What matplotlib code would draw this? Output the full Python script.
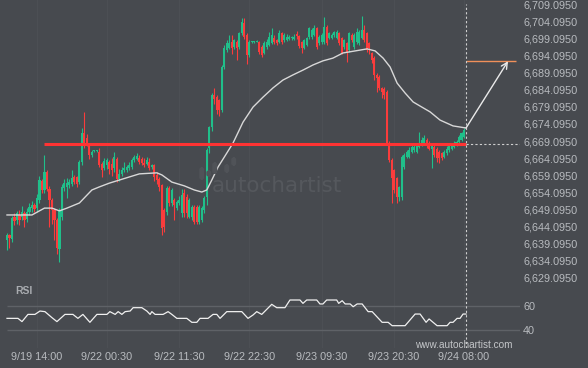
import matplotlib
matplotlib.use('Agg')
import numpy as np
from matplotlib import pyplot as plt
from matplotlib.patches import FancyBboxPatch

plt.rcParams['font.family'] = ['Liberation Sans', 'DejaVu Sans']

# candles (30 min)
opens = [6640.2, 6641.6, 6640.5, 6647.0, 6646.0, 6647.5, 6647.0, 6648.0, 6646.3, 6648.3,
         6649.5, 6650.3, 6649.5, 6652.0, 6657.3, 6654.8, 6660.0, 6655.0, 6651.9, 6648.9,
         6646.0, 6637.5, 6647.0, 6655.5, 6655.8, 6656.3, 6656.5, 6658.6, 6658.6, 6657.2,
         6663.0, 6671.4, 6670.0, 6668.0, 6665.0, 6666.1, 6666.1, 6665.9, 6662.5, 6661.3,
         6662.0, 6663.0, 6662.5, 6661.2, 6663.8, 6658.0, 6659.6, 6660.6, 6660.6, 6661.2,
         6661.5, 6663.5, 6663.8, 6664.2, 6663.8, 6662.8, 6662.5, 6663.0, 6661.5, 6662.0,
         6659.2, 6658.0, 6656.2, 6648.9, 6648.3, 6655.3, 6651.0, 6652.0, 6649.6, 6651.0,
         6648.0, 6654.0, 6652.7, 6647.0, 6647.0, 6649.8, 6649.8, 6645.5, 6646.0, 6649.0,
         6652.8, 6667.0, 6673.2, 6682.5, 6682.0, 6681.0, 6678.2, 6690.7, 6695.7, 6696.3,
         6698.0, 6696.5, 6698.0, 6696.5, 6700.6, 6703.6, 6700.1, 6694.2, 6698.0, 6698.0,
         6698.1, 6698.0, 6696.5, 6694.8, 6696.5, 6697.1, 6697.7, 6699.2, 6698.6, 6698.0,
         6700.6, 6698.6, 6698.6, 6698.9, 6699.1, 6698.9, 6700.1, 6699.8, 6698.0, 6696.3,
         6697.1, 6699.5, 6699.5, 6700.1, 6702.1, 6697.7, 6698.0, 6698.0, 6702.4, 6699.2,
         6699.2, 6700.1, 6699.2, 6700.6, 6699.2, 6696.5, 6697.7, 6695.7, 6700.0, 6696.6,
         6698.0, 6697.6, 6699.2, 6701.5, 6700.5, 6697.6, 6694.7, 6693.3, 6688.4, 6687.9,
         6684.5, 6684.3, 6683.5, 6668.4, 6663.5, 6660.6, 6658.2, 6652.8, 6652.8, 6661.6,
         6664.5, 6664.5, 6666.0, 6666.5, 6666.0, 6667.4, 6667.9, 6668.4, 6669.4, 6668.4,
         6666.9, 6667.4, 6666.9, 6666.0, 6665.5, 6664.5, 6665.5, 6666.5, 6666.7, 6667.4,
         6667.9, 6668.9, 6669.4, 6670.4]
highs = [6642.2, 6642.0, 6647.2, 6648.0, 6648.7, 6649.0, 6650.0, 6648.8, 6649.5, 6651.0,
         6651.5, 6651.0, 6653.5, 6659.0, 6658.0, 6665.0, 6660.5, 6656.0, 6652.5, 6649.5,
         6646.5, 6649.5, 6656.5, 6658.0, 6658.3, 6658.0, 6660.6, 6659.3, 6659.0, 6663.5,
         6672.9, 6677.6, 6671.0, 6668.5, 6666.5, 6666.4, 6666.4, 6667.0, 6663.0, 6664.0,
         6664.0, 6663.5, 6664.0, 6665.9, 6664.5, 6661.0, 6661.5, 6663.0, 6662.0, 6663.0,
         6664.0, 6665.0, 6665.5, 6665.0, 6664.5, 6664.0, 6664.5, 6664.0, 6662.5, 6662.5,
         6660.0, 6658.5, 6656.5, 6649.5, 6656.0, 6656.0, 6655.5, 6652.5, 6652.0, 6653.0,
         6655.0, 6655.0, 6653.5, 6652.5, 6650.3, 6650.5, 6650.5, 6650.5, 6650.0, 6653.0,
         6667.0, 6673.5, 6683.0, 6684.6, 6682.5, 6681.5, 6691.3, 6697.0, 6698.5, 6700.0,
         6700.0, 6699.0, 6698.6, 6701.0, 6705.0, 6705.0, 6700.5, 6698.5, 6698.4, 6698.4,
         6698.5, 6698.3, 6697.0, 6698.2, 6698.8, 6701.0, 6702.0, 6700.0, 6699.0, 6701.5,
         6701.0, 6700.6, 6700.3, 6700.0, 6699.9, 6700.3, 6701.2, 6700.0, 6698.3, 6699.0,
         6699.5, 6702.4, 6702.0, 6703.0, 6702.5, 6700.0, 6700.5, 6705.3, 6703.0, 6701.0,
         6700.6, 6701.2, 6701.5, 6701.0, 6699.5, 6699.0, 6698.0, 6701.0, 6700.5, 6700.5,
         6702.0, 6701.5, 6705.6, 6703.0, 6701.0, 6698.0, 6695.0, 6693.8, 6689.0, 6688.5,
         6685.0, 6685.0, 6684.0, 6669.0, 6664.0, 6661.0, 6658.5, 6656.0, 6665.0, 6665.5,
         6666.5, 6667.4, 6668.0, 6668.0, 6668.5, 6671.8, 6670.4, 6670.8, 6669.9, 6669.0,
         6668.0, 6667.8, 6667.3, 6666.5, 6666.0, 6666.5, 6667.5, 6668.0, 6668.3, 6669.0,
         6669.5, 6670.8, 6671.8, 6672.8]
lows = [6637.3, 6637.8, 6639.5, 6644.5, 6645.0, 6644.5, 6646.0, 6644.0, 6645.5, 6647.5,
        6648.5, 6648.5, 6648.5, 6651.0, 6654.0, 6654.0, 6654.5, 6644.0, 6645.0, 6640.2,
        6636.0, 6633.8, 6646.0, 6654.5, 6652.5, 6655.5, 6656.0, 6656.5, 6655.6, 6656.5,
        6662.0, 6667.0, 6667.5, 6663.8, 6664.5, 6665.9, 6665.9, 6661.5, 6658.5, 6660.5,
        6661.0, 6659.5, 6659.0, 6660.0, 6657.0, 6657.5, 6659.0, 6660.0, 6660.0, 6660.5,
        6661.0, 6663.0, 6663.5, 6662.5, 6662.0, 6661.5, 6662.0, 6660.5, 6661.0, 6657.5,
        6656.5, 6654.5, 6641.6, 6642.5, 6647.5, 6650.0, 6650.0, 6646.0, 6649.0, 6650.5,
        6647.0, 6647.0, 6646.5, 6646.5, 6646.0, 6645.0, 6645.0, 6645.0, 6645.5, 6648.0,
        6650.5, 6665.5, 6672.0, 6680.0, 6677.0, 6676.5, 6677.5, 6690.0, 6695.0, 6696.0,
        6694.5, 6696.0, 6692.8, 6696.0, 6700.0, 6699.0, 6691.6, 6693.5, 6697.8, 6697.8,
        6697.9, 6694.5, 6693.5, 6694.5, 6696.0, 6696.8, 6697.5, 6697.5, 6697.0, 6697.7,
        6697.5, 6698.0, 6698.3, 6698.6, 6698.7, 6698.5, 6699.0, 6696.3, 6694.8, 6696.0,
        6696.8, 6699.0, 6699.0, 6699.8, 6696.0, 6697.2, 6697.5, 6697.5, 6697.0, 6699.0,
        6698.8, 6699.5, 6699.0, 6697.0, 6694.5, 6696.0, 6692.2, 6695.0, 6698.0, 6696.0,
        6697.5, 6697.0, 6698.8, 6698.0, 6695.0, 6694.5, 6692.0, 6687.0, 6683.5, 6684.0,
        6681.6, 6681.5, 6668.0, 6663.0, 6650.9, 6654.0, 6650.9, 6651.5, 6652.0, 6661.0,
        6664.0, 6664.0, 6665.5, 6666.0, 6665.5, 6667.0, 6667.5, 6668.0, 6667.2, 6666.5,
        6661.1, 6664.5, 6663.0, 6662.6, 6663.5, 6664.0, 6665.0, 6666.0, 6666.5, 6667.0,
        6667.6, 6668.5, 6669.0, 6670.0]
closes = [6641.6, 6640.7, 6646.6, 6645.7, 6648.0, 6646.0, 6648.5, 6646.0, 6648.5, 6649.8,
          6650.4, 6649.3, 6652.5, 6657.7, 6654.8, 6660.0, 6655.0, 6651.9, 6648.9, 6646.0,
          6637.8, 6648.9, 6655.6, 6656.8, 6656.8, 6657.2, 6658.2, 6657.2, 6656.6, 6663.0,
          6671.4, 6668.0, 6668.5, 6665.0, 6665.9, 6666.2, 6666.2, 6662.1, 6660.5, 6663.2,
          6663.5, 6660.8, 6660.5, 6664.4, 6658.0, 6659.6, 6660.6, 6661.2, 6661.5, 6662.1,
          6663.5, 6664.4, 6664.7, 6663.0, 6662.7, 6662.1, 6663.5, 6661.2, 6662.1, 6658.6,
          6657.7, 6655.6, 6643.7, 6644.0, 6655.3, 6651.0, 6654.8, 6650.4, 6651.3, 6651.9,
          6653.3, 6648.0, 6648.0, 6651.9, 6649.8, 6645.5, 6645.5, 6649.8, 6649.5, 6652.5,
          6666.5, 6673.2, 6682.5, 6681.4, 6678.2, 6678.2, 6690.7, 6696.3, 6697.7, 6697.7,
          6696.3, 6698.6, 6696.3, 6700.6, 6703.9, 6699.5, 6694.2, 6698.0, 6698.2, 6698.2,
          6698.3, 6695.1, 6694.2, 6697.7, 6698.0, 6699.5, 6700.1, 6698.0, 6697.7, 6700.6,
          6698.0, 6700.1, 6699.5, 6699.4, 6699.6, 6699.5, 6699.9, 6696.8, 6696.3, 6698.6,
          6699.2, 6702.1, 6701.5, 6702.1, 6696.5, 6699.5, 6700.1, 6702.4, 6697.7, 6700.6,
          6700.1, 6700.8, 6700.9, 6697.7, 6694.8, 6698.6, 6694.8, 6700.5, 6698.6, 6700.0,
          6700.9, 6700.9, 6701.5, 6698.6, 6695.7, 6696.3, 6692.8, 6688.4, 6687.4, 6684.5,
          6683.5, 6682.5, 6668.4, 6663.5, 6658.2, 6654.8, 6652.8, 6655.7, 6664.5, 6665.0,
          6666.0, 6666.5, 6667.4, 6667.4, 6667.9, 6667.9, 6669.4, 6669.9, 6667.6, 6666.9,
          6667.6, 6665.0, 6664.0, 6664.0, 6664.0, 6666.0, 6666.9, 6667.6, 6667.9, 6668.4,
          6668.9, 6670.4, 6671.3, 6672.3]

# moving average, sampled along the white line (candle index, price)
ma_idx = [0, 10, 15, 18, 21, 24, 29, 34, 37, 41, 45, 53, 60, 62, 66, 71, 75, 78, 80, 82,
          84.5, 87, 90.5, 94.5, 98.5, 102.5, 106.5, 110.5, 114.5, 118.5, 122.5, 126.5,
          130.5, 134.5, 139.4, 144.2, 147.4, 150.6, 153.4, 156.2, 159.4, 162.6, 165.4,
          169.4, 173.4, 178.6, 183.8]
ma_vals = [6647.5, 6647.5, 6649.5, 6649.5, 6648.7, 6649.5, 6651.0, 6654.8, 6655.7, 6656.8,
           6657.7, 6659.5, 6659.8, 6659.2, 6657.1, 6656.0, 6654.8, 6654.2, 6654.8, 6657.7,
           6661.5, 6664.4, 6668.5, 6674.6, 6679.0, 6681.9, 6684.6, 6686.9, 6688.4, 6689.8,
           6691.3, 6692.5, 6693.3, 6694.8, 6695.4, 6696.0, 6695.4, 6693.3, 6690.7, 6686.0,
           6683.1, 6680.5, 6679.3, 6677.6, 6675.2, 6673.5, 6672.9]

# RSI line vertices (candle index, value)
rsi_idx = [0, 4.4, 6, 8.4, 11.2, 13.2, 15.2, 18, 20, 23.2, 26.4, 28.4, 30.4, 33.2, 36, 40,
           41.2, 43.3, 44.5, 46, 47.3, 49.3, 50.5, 54, 56, 57.3, 58, 59.3, 62.5, 64.5, 66,
           68, 72, 74, 76, 77.3, 80.5, 82.5, 84, 85.3, 88, 94, 96.5, 98.5, 100, 102, 106,
           108, 111.3, 113.3, 117.3, 118.5, 120, 124, 125.3, 126.5, 128, 132, 132.8, 134.2,
           135.4, 137.4, 138.6, 140.2, 142.2, 144.6, 146.2, 150.2, 152.6, 154.2, 159.4,
           163.4, 165.4, 167.8, 169, 172.2, 176.2, 177.4, 178.6, 180.2, 181.4, 182.6, 183.8]
rsi_vals = [49.7, 49.7, 47, 53, 53, 55.8, 55.3, 50.3, 47, 53, 53, 49.7, 53, 46.4, 53, 53,
            55.3, 53, 55.3, 53, 55.3, 55.8, 58.6, 58.6, 55.8, 53, 55.3, 53, 53, 55.3, 53,
            49.7, 49.7, 46.4, 46.4, 49.7, 49.7, 53, 53, 49.7, 55.3, 55.3, 49.7, 52.5, 55.3,
            53, 61.4, 58.6, 58.6, 65, 65, 62.2, 65, 65, 61.7, 61.7, 65, 65, 62.2, 64.4,
            61.7, 61.7, 59.4, 61.7, 61.7, 55.3, 55.3, 46.4, 46.4, 43.6, 43.6, 53.3, 53.3,
            46.4, 49.2, 43.6, 43.6, 46.4, 46.4, 49.7, 49.7, 53.3, 53.3]

tick_idx = [12, 40, 69, 97, 126, 155, 183]
tick_labels = ['9/19 14:00', '9/22 00:30', '9/22 11:30', '9/22 22:30',
               '9/23 09:30', '9/23 20:30', '9/24 08:00']

price_ticks = [6629.095 + 5 * k for k in range(17)]
level = 6668.1          # red support/resistance line
level_start = 14.8
last_idx = 183.8
target = 6692.4         # forecast
target_idx = 200.6
ma_last = 6672.9

bg = '#474a4f'
green = '#20bf8a'
red = '#fa3c3c'
txt = '#b8bbbf'

fig = plt.figure(figsize=(5.88, 3.68), dpi=100, facecolor=bg)
ax = fig.add_axes([0, 83 / 368, 520 / 588, 285 / 368], facecolor=bg)
ax2 = fig.add_axes([0, 20 / 368, 520 / 588, 63 / 368], facecolor=bg)

xmin, xmax = -2.8, 205.4
for a in (ax, ax2):
    a.set_xlim(xmin, xmax)
    for s in a.spines.values():
        s.set_visible(False)
    for t in tick_idx:
        a.axvline(t, color='#4c4f54', lw=1, zorder=0)

ax.set_ylim(6627.05, 6710.27)
ax2.set_ylim(25, 77.5)

# watermark
for bx, by, bh in [(200, 168, 11), (207, 171, 5), (213, 163, 10), (225, 165, 7), (232, 158, 7)]:
    fig.patches.append(FancyBboxPatch((bx / 588, 1 - (by + bh) / 368), 3.5 / 588, bh / 368,
                                      boxstyle='round,pad=0,rounding_size=0.004',
                                      transform=fig.transFigure, color='#505358', zorder=0))
fig.text(277 / 588, 1 - 186 / 368, 'autochartist', color='#55585d', fontsize=15.5,
         family='DejaVu Sans', ha='center', va='center', zorder=0)

# candles
idx = np.arange(len(closes))
o = np.array(opens)
c = np.array(closes)
cols = [green if cc >= oo else red for oo, cc in zip(o, c)]
ax.vlines(idx, lows, highs, colors=cols, lw=0.8, zorder=2)
ax.bar(idx, np.maximum(np.abs(c - o), 0.3), bottom=np.minimum(o, c), width=0.85,
       color=cols, linewidth=0, zorder=3)

# moving average
ax.plot(ma_idx, ma_vals, color='#d8d8d8', lw=1.0, zorder=4)

# level line
ax.hlines(level, level_start, last_idx, color='#ff3333', lw=2.2, zorder=5)
ax.hlines(level, last_idx, xmax, color='#cfcfcf', lw=0.8, linestyles=(0, (2, 2)), zorder=5)

# forecast
ax.hlines(target, last_idx, 203.8, color='#f0905a', lw=1, zorder=5)
ax.annotate('', xy=(target_idx, target), xytext=(last_idx, ma_last),
            arrowprops=dict(arrowstyle='->', color='#eaeaea', lw=1, mutation_scale=11,
                            shrinkA=0, shrinkB=0), zorder=6)

# current time marker
ax.vlines(last_idx, 6627.05, 6709.1, color='#cfcfcf', lw=0.8, linestyles=(0, (2, 2)), zorder=5)
ax2.axvline(last_idx, color='#cfcfcf', lw=0.8, linestyle=(0, (2, 2)), zorder=5)

ax.yaxis.tick_right()
ax.set_yticks(price_ticks)
ax.set_yticklabels(['{:,.4f}'.format(p) for p in price_ticks])
ax.tick_params(axis='y', length=0, pad=2.2, labelsize=7.8, labelcolor=txt)
ax.set_xticks([])

# RSI panel
ax2.hlines([40, 60], 0, xmax, color='#5f6267', lw=1, zorder=1)
ax2.plot(rsi_idx, rsi_vals, color='#f0f0f0', lw=0.9, zorder=3)
ax2.yaxis.tick_right()
ax2.set_yticks([40, 60])
ax2.set_yticklabels(['40', '60'])
ax2.tick_params(axis='y', length=0, pad=2.2, labelsize=7.8, labelcolor=txt)
ax2.set_xticks(tick_idx)
ax2.set_xticklabels(tick_labels)
ax2.tick_params(axis='x', length=0, pad=3, labelsize=7.8, labelcolor=txt)

fig.text(15 / 588, 1 - 291 / 368, 'RSI', color='#a9acb0', fontsize=7.5,
         fontweight='bold', va='center')
fig.text(513 / 588, 1 - 345 / 368, 'www.autochartist.com', color='#c4c6c9', fontsize=7.2,
         ha='right', va='center')

fig.savefig('out.png', dpi=100, facecolor=bg)
